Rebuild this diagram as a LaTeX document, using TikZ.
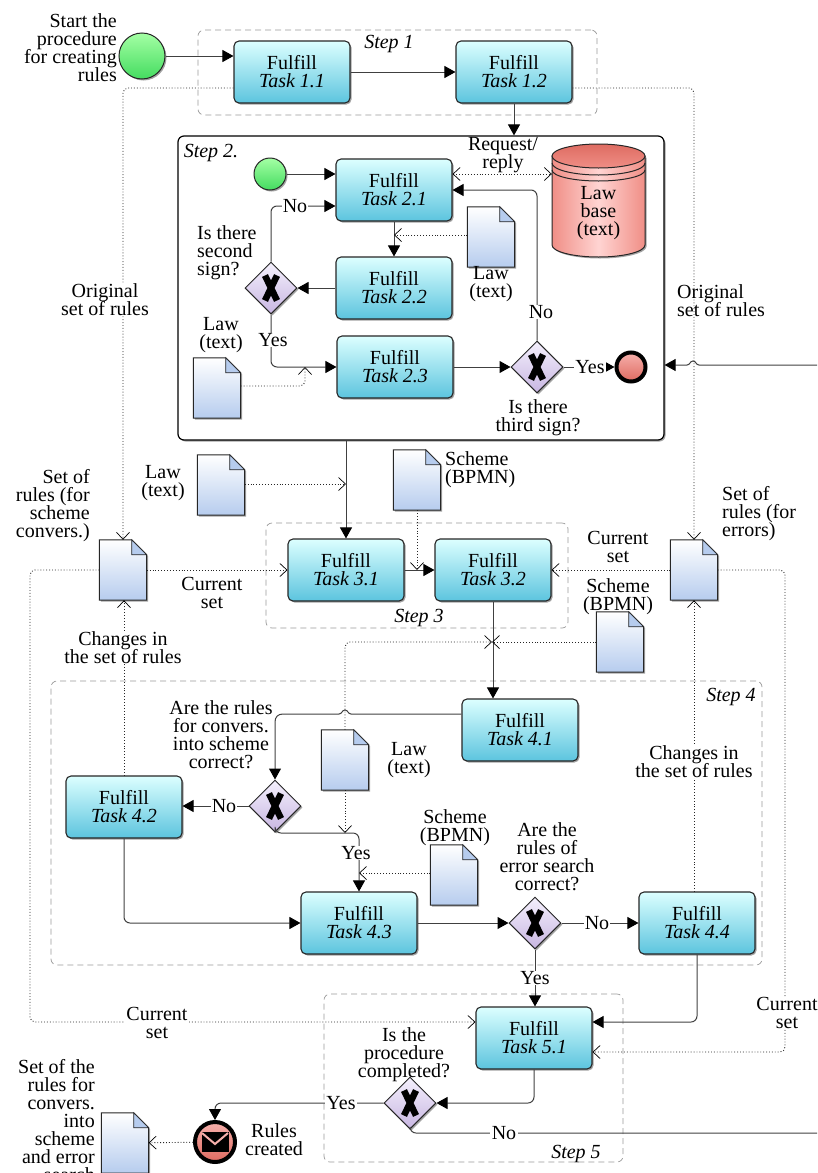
\documentclass[tikz,border=0pt]{standalone}
\usepackage{fontspec}
\setmainfont{Liberation Serif}
\usetikzlibrary{positioning}
\usetikzlibrary{arrows.meta}
\usetikzlibrary{calc}
\usetikzlibrary{shadows}
\usetikzlibrary{shapes.geometric}

\definecolor{taskTop}{HTML}{DCFFFF}
\definecolor{taskBot}{HTML}{5CC4DE}
\definecolor{startTop}{HTML}{A4FFA4}
\definecolor{startBot}{HTML}{44DC60}
\definecolor{gateTop}{HTML}{F4F0FC}
\definecolor{gateBot}{HTML}{C8B6E2}
\definecolor{docBot}{HTML}{B6CCEE}
\definecolor{lawSide}{HTML}{F08E86}
\definecolor{lawMid}{HTML}{FFD4D2}
\definecolor{lawTop}{HTML}{DE6C62}
\definecolor{endTop}{HTML}{F6B0AC}
\definecolor{endBot}{HTML}{DE6A60}
\definecolor{lineGrey}{HTML}{404040}

\newcommand{\diafont}{\fontsize{20}{18}\selectfont\lineskiplimit=-20pt}

\tikzset{
	every node/.style={font=\diafont},
	softshadow/.style={drop shadow={shadow xshift=1.5pt, shadow yshift=-1.5pt, fill=black!60, opacity=.6}},
	task/.style={draw=black!85, line width=1.1pt, rounded corners=5pt, minimum width=116pt, minimum height=62pt,
		inner sep=0pt, align=center, top color=taskTop, bottom color=taskBot, softshadow},
	startev/.style={circle, draw=black!85, line width=1pt, inner sep=0pt, top color=startTop, bottom color=startBot, softshadow},
	endev/.style={circle, draw=black, line width=4pt, inner sep=0pt, top color=endTop, bottom color=endBot, softshadow},
	gate/.style={diamond, aspect=1, draw=black!85, line width=1pt, inner sep=0pt, minimum size=52pt,
		top color=gateTop, bottom color=gateBot, softshadow,
		path picture={\draw[line width=6.5pt, black] (path picture bounding box.center) +(-6,12.5) -- +(6,-12.5) +(6,12.5) -- +(-6,-12.5);}},
	docbox/.style={minimum width=47pt, minimum height=60pt, inner sep=0pt},
	docshape/.style={draw=black!85, line width=1pt, top color=white, bottom color=docBot, softshadow},
	docfold/.style={draw=black!85, line width=.8pt, fill=docBot},
	stepdash/.style={draw=black!40, line width=.7pt, dash pattern=on 6pt off 4pt, rounded corners=6pt},
	stepsolid/.style={draw=black, line width=1.2pt, rounded corners=6pt, fill=white, softshadow},
	flow/.style={line width=1pt, draw=lineGrey, rounded corners=6pt, -{Triangle[length=11pt,width=12pt,black]}},
	plain/.style={line width=1pt, draw=lineGrey, rounded corners=6pt},
	assoc/.style={line width=.9pt, draw=black!85, dotted, rounded corners=5pt, -{Straight Barb[length=7pt,width=13pt,line width=.7pt,black]}},
	assocb/.style={assoc, {Straight Barb[length=7pt,width=13pt,line width=.7pt,black]}-{Straight Barb[length=7pt,width=13pt,line width=.7pt,black]}},
	lbl/.style={inner sep=0pt, align=center},
	lblr/.style={inner sep=0pt, align=right},
	lbll/.style={inner sep=0pt, align=left},
	lblw/.style={inner sep=1.5pt, align=center, fill=white},
}

% document with a folded corner, #1 name, #2 x, #3 y
\newcommand{\docnode}[3]{%
	\node[docbox] (#1) at (#2,-#3) {};
	\draw[docshape] (#1.south west) -- (#1.north west) -- ([xshift=-15pt]#1.north east) -- ([yshift=-15pt]#1.north east) -- (#1.south east) -- cycle;
	\draw[docfold] ([xshift=-15pt]#1.north east) -- ([yshift=-15pt]#1.north east) -- ([xshift=-15pt,yshift=-15pt]#1.north east) -- cycle;
}

\begin{document}
\begin{tikzpicture}[x=1pt, y=1pt]
	\useasboundingbox (0,0) rectangle (817,-1173);

	% Step frames
	\node[stepdash, minimum width=399pt, minimum height=85pt] (step1) at (397.5,-72.5) {};
	\node[stepsolid, minimum width=486pt, minimum height=304pt] (step2) at (421,-288) {};
	\node[stepdash, minimum width=302pt, minimum height=105pt] (step3) at (417,-575.5) {};
	\node[stepdash, minimum width=711pt, minimum height=284pt] (step4) at (406.5,-823) {};
	\node[stepdash, minimum width=299pt, minimum height=168pt] (step5) at (473.5,-1078) {};

	% Tasks
	\foreach \name/\x/\y/\txt in {task11/292/72/1.1, task12/514/72/1.2, task21/394/190/2.1, task22/394/288/2.2,
		task23/395/367/2.3, task31/346/570/3.1, task32/493/570/3.2, task41/520/730/4.1, task42/124/807/4.2,
		task43/359/923/4.3, task44/697/923/4.4, task51/534/1038/5.1} {
		\node[task] (\name) at (\x,-\y) {Fulfill\\\textit{Task \txt}};
	}

	% Events and gateways
	\node[startev, minimum size=46pt] (start) at (142,-56) {};
	\node[startev, minimum size=32pt] (start2) at (270,-174) {};
	\node[endev, minimum size=29pt] (end2) at (631,-367) {};
	\node[endev, minimum size=40pt] (endmsg) at (215,-1142) {};
	\fill[black] (201.5,-1131.5) rectangle (228.5,-1152);
	\draw[endTop, line width=2pt] (202,-1133) -- (215,-1144) -- (228,-1133);
	\node[gate] (gate1) at (271,-288) {};
	\node[gate] (gate2) at (537,-367) {};
	\node[gate] (gate3) at (275,-806) {};
	\node[gate] (gate4) at (535,-923) {};
	\node[gate] (gate5) at (410,-1103) {};

	% Law base
	\node[minimum width=93pt, minimum height=113pt, inner sep=0pt] (lawbase) at (598.5,-200.5) {};
	\draw[black!85, line width=1pt, left color=lawSide, right color=lawSide, middle color=lawMid, softshadow]
		(552,-156) -- (552,-245) arc[start angle=180, end angle=360, x radius=46.5, y radius=12] -- (645,-156) -- cycle;
	\draw[black!85, line width=1pt, top color=lawTop, bottom color=lawSide] (598.5,-156) ellipse (46.5 and 12);
	\draw[black!85, line width=1pt] (552,-163) arc[start angle=180, end angle=360, x radius=46.5, y radius=12];
	\draw[black!85, line width=1pt] (552,-170) arc[start angle=180, end angle=360, x radius=46.5, y radius=11];

	% Documents
	\docnode{doclaw1}{491}{237}
	\docnode{doclaw2}{217}{388}
	\docnode{doclaw3}{221}{485}
	\docnode{docsch1}{417}{480}
	\docnode{docset1}{123}{570}
	\docnode{docset2}{694}{570}
	\docnode{docsch2}{620}{642}
	\docnode{doclaw4}{345}{760}
	\docnode{docsch3}{454}{875}
	\docnode{docout}{125}{1143}

	% Free ends at the right margin
	\coordinate (rightin) at (817,-365);
	\coordinate (rightout) at (817,-1133);
	\coordinate (crossx) at (492,-642);

	% Sequence flows
	\draw[flow] (start) -- (start -| task11.west);
	\draw[flow] (task11) -- (task12);
	\draw[flow] (task12.south) -- (task12.south |- step2.north);
	\draw[flow] (start2) -- (start2 -| task21.west);
	\draw[flow] (gate1.north) -- (271,-206) -- ([yshift=-16pt]task21.west);
	\draw[flow] (task21) -- (task22);
	\draw[flow] (task22) -- (gate1);
	\draw[flow] (gate1.south) -- (271,-367) -- (task23.west);
	\draw[flow] (task23) -- (gate2);
	\draw[flow] (gate2.north) -- (537,-190) -- (task21.east);
	\draw[flow] (gate2) -- (end2);
	\draw[flow, rounded corners=0pt] (rightin) -- (699,-365) .. controls (696,-365) and (696,-361) .. (693,-361) .. controls (690,-361) and (690,-365) .. (687,-365) -- (rightin -| step2.east);
	\draw[flow] (task31 |- step2.south) -- (task31.north);
	\draw[flow] (task31) -- (task32);
	\draw[flow] (task32.south) -- (task32.south |- task41.north);
	\draw[flow, rounded corners=0pt] ([yshift=16pt]task41.west) -- (351,-714) .. controls (348,-714) and (348,-710) .. (345,-710) .. controls (342,-710) and (342,-714) .. (339,-714) -- (283,-714) .. controls (278,-714) and (275,-717) .. (275,-722) -- (gate3.north);
	\draw[flow] (gate3) -- (task42.east |- gate3);
	\draw[flow] (gate3.south) -- (275,-833) -- (359,-833) -- (task43.north);
	\draw[flow] (task42.south) -- (124,-923) -- (task43.west);
	\draw[flow] (task43) -- (gate4);
	\draw[flow] (gate4) -- (task44);
	\draw[flow] (gate4.south) -- (gate4.south |- task51.north);
	\draw[flow] (task44.south) -- (697,-1022) -- ([yshift=16pt]task51.east);
	\draw[flow] (task51.south) -- (534,-1103) -- (gate5.east);
	\draw[flow] (gate5.west) -- (215,-1103) -- (endmsg.north);
	\draw[plain] (gate5.south) -- (410,-1133) -- (rightout);

	% Associations
	\draw[assoc] ([yshift=-16pt]task11.west) -- (123,-88) -- (docset1.north);
	\draw[assoc] ([yshift=-16pt]task12.east) -- (694,-88) -- (docset2.north);
	\draw[assocb] ([yshift=16pt]task21.east) -- (lawbase.west |- 0,-174);
	\draw[assoc] (doclaw1.west |- 0,-235) -- (task21 |- 0,-235);
	\draw[assoc] (doclaw2.east |- 0,-386) -- (305,-386) -- (305,-367);
	\draw[assoc] (doclaw3.east |- 0,-484) -- (346,-484);
	\draw[assoc] (docsch1.south) -- (417,-570);
	\draw[assoc] (docset1) -- (task31);
	\draw[assoc] (docset1.west) -- (30,-570) -- (30,-1022) -- ([yshift=16pt]task51.west);
	\draw[assoc] (docset2) -- (task32);
	\draw[assoc] (docset2.east) -- (785,-570) -- (785,-1052) -- ([yshift=-14pt]task51.east);
	\draw[assoc] (docsch2.west) -- (crossx);
	\draw[assoc] (doclaw4.north) -- (345,-642) -- (crossx);
	\draw[assoc] (doclaw4.south) -- (345,-833);
	\draw[assoc] (docsch3.west |- 0,-873) -- (359,-873);
	\draw[assoc] (task42.north) -- (task42.north |- docset1.south);
	\draw[assoc] (task44.north -| docset2) -- (docset2.south);
	\draw[assoc] (endmsg) -- (docout);

	% Labels
	\node[lblr, anchor=east] (startlbl) at (117,-48) {Start the\\procedure\\for creating\\rules};
	\node[lbl] (step1lbl) at (389,-44) {\itshape Step 1};
	\node[lbl] (step2lbl) at (211,-153) {\itshape Step 2.};
	\node[lbl] (step3lbl) at (419,-618) {\itshape Step 3};
	\node[lbl] (step4lbl) at (731,-697) {\itshape Step 4};
	\node[lbl] (step5lbl) at (576,-1154) {\itshape Step 5};
	\node[lblw, inner sep=0pt] (reqlbl) at (503,-155) {Request/\\reply};
	\node[lbl] (baselbl) at (598.5,-213) {Law\\base\\(text)};
	\node[lblw, inner xsep=1pt, inner ysep=0pt] (no1lbl) at (295,-206) {No};
	\node[lbll, anchor=west] (sign2lbl) at (197,-253) {Is there\\second\\sign?};
	\node[lbl] (law1lbl) at (491,-284) {Law\\(text)};
	\node[lbl] (law2lbl) at (221,-335) {Law\\(text)};
	\node[lblw, inner ysep=0pt] (yes1lbl) at (273,-340) {Yes};
	\node[lblw, inner ysep=0pt] (no2lbl) at (541,-312) {No};
	\node[lblw, inner xsep=1pt, inner ysep=0pt] (yes2lbl) at (590,-367) {Yes};
	\node[lbl] (sign3lbl) at (538,-418) {Is there\\third sign?};
	\node[lblw, inner ysep=0pt] (orig1lbl) at (105,-300) {Original\\set of rules};
	\node[lbll, anchor=west] (orig2lbl) at (677,-301) {Original\\set of rules};
	\node[lbl] (law3lbl) at (163,-483) {Law\\(text)};
	\node[lbll, anchor=west] (sch1lbl) at (445,-470) {Scheme\\(BPMN)};
	\node[lblr, anchor=east] (set1lbl) at (90,-506) {Set of\\rules (for\\scheme\\convers.)};
	\node[lbl] (cur1lbl) at (212,-593) {Current\\set};
	\node[lbll, anchor=west] (set2lbl) at (722,-514) {Set of\\rules (for\\errors)};
	\node[lbl] (cur2lbl) at (618,-547) {Current\\set};
	\node[lbl] (sch2lbl) at (618,-597) {Scheme\\(BPMN)};
	\node[lblw, inner ysep=0pt] (chg1lbl) at (123,-648) {Changes in\\the set of rules};
	\node[lbl] (ruleslbl) at (221,-735) {Are the rules\\for convers.\\into scheme\\correct?};
	\node[lbl] (law4lbl) at (409,-760) {Law\\(text)};
	\node[lblw, inner xsep=1pt, inner ysep=0pt] (no3lbl) at (224,-806) {No};
	\node[lblw, inner ysep=0pt] (yes3lbl) at (356,-853) {Yes};
	\node[lbl] (sch3lbl) at (455,-828) {Scheme\\(BPMN)};
	\node[lbl] (errlbl) at (547,-857) {Are the\\rules of\\error search\\correct?};
	\node[lblw, inner ysep=0pt] (chg2lbl) at (694,-762) {Changes in\\the set of rules};
	\node[lblw, inner xsep=1pt, inner ysep=0pt] (no4lbl) at (597,-923) {No};
	\node[lblw, inner ysep=0pt] (yes4lbl) at (535,-978) {Yes};
	\node[lblw, inner ysep=0pt] (cur3lbl) at (157,-1023) {Current\\set};
	\node[lblw, inner ysep=0pt] (cur4lbl) at (787,-1013) {Current\\set};
	\node[lbl] (donelbl) at (404,-1055) {Is the\\procedure\\completed?};
	\node[lblw, inner ysep=0pt] (yes5lbl) at (341,-1103) {Yes};
	\node[lblw, inner ysep=0pt] (no5lbl) at (504,-1133) {No};
	\node[lbl] (msglbl) at (274,-1140) {Rules\\created};
	\node[lblr, anchor=east] (outlbl) at (95,-1121) {Set of the\\rules for\\convers.\\into\\scheme\\and error\\search};
\end{tikzpicture}
\end{document}
